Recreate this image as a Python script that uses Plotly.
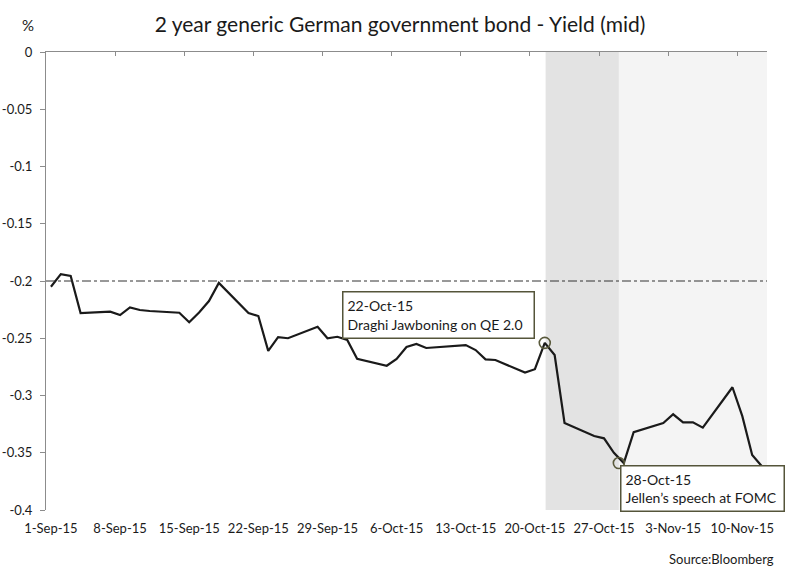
import pandas as pd
import plotly.graph_objects as go

# ---------------- data ----------------
dates = [
    "2015-09-01", "2015-09-02", "2015-09-03", "2015-09-04",
    "2015-09-07", "2015-09-08", "2015-09-09", "2015-09-10", "2015-09-11",
    "2015-09-14", "2015-09-15", "2015-09-16", "2015-09-17", "2015-09-18",
    "2015-09-21", "2015-09-22", "2015-09-23", "2015-09-24", "2015-09-25",
    "2015-09-28", "2015-09-29", "2015-09-30", "2015-10-01", "2015-10-02",
    "2015-10-05", "2015-10-06", "2015-10-07", "2015-10-08", "2015-10-09",
    "2015-10-12", "2015-10-13", "2015-10-14", "2015-10-15", "2015-10-16",
    "2015-10-19", "2015-10-20", "2015-10-21", "2015-10-22", "2015-10-23",
    "2015-10-26", "2015-10-27", "2015-10-28", "2015-10-29", "2015-10-30",
    "2015-11-02", "2015-11-03", "2015-11-04", "2015-11-05", "2015-11-06",
    "2015-11-09", "2015-11-10", "2015-11-11", "2015-11-12",
]
yields = [
    -0.205, -0.194, -0.1955, -0.228,
    -0.2268, -0.2297, -0.223, -0.2253, -0.2262,
    -0.2277, -0.236, -0.2275, -0.2175, -0.2017,
    -0.228, -0.2306, -0.261, -0.249, -0.250,
    -0.240, -0.250, -0.2487, -0.2515, -0.268,
    -0.274, -0.268, -0.2576, -0.255, -0.2585,
    -0.2568, -0.256, -0.2603, -0.2684, -0.269,
    -0.280, -0.277, -0.254, -0.2646, -0.324,
    -0.3354, -0.3374, -0.350, -0.359, -0.332,
    -0.324, -0.3164, -0.3234, -0.3234, -0.3281,
    -0.2928, -0.318, -0.352, -0.362,
]

tick_dates = ["2015-09-01", "2015-09-08", "2015-09-15", "2015-09-22", "2015-09-29",
              "2015-10-06", "2015-10-13", "2015-10-20", "2015-10-27", "2015-11-03",
              "2015-11-10"]
tick_labels = ["1-Sep-15", "8-Sep-15", "15-Sep-15", "22-Sep-15", "29-Sep-15",
               "6-Oct-15", "13-Oct-15", "20-Oct-15", "27-Oct-15", "3-Nov-15",
               "10-Nov-15"]
ytick_vals = [0, -0.05, -0.1, -0.15, -0.2, -0.25, -0.3, -0.35, -0.4]
ytick_text = ["0", "-0.05", "-0.1", "-0.15", "-0.2", "-0.25", "-0.3", "-0.35", "-0.4"]

x_range = ["2015-09-01", "2015-11-13"]
threshold = -0.2

event_x = ["2015-10-21 12:00", "2015-10-29 00:00"]
event_y = [-0.254, -0.359]
event_text = ["22-Oct-15<br>Draghi Jawboning on QE 2.0",
              "28-Oct-15<br>Jellen\u2019s speech at FOMC"]

shade_dark = ["2015-10-21 14:00", "2015-10-29 00:00"]
shade_light = ["2015-10-29 00:00", "2015-11-13 00:00"]

# ---------------- figure ----------------
FONT = "Lato, 'Open Sans', sans-serif"
x_mid = pd.to_datetime(dates) + pd.Timedelta(hours=12)
tick_mid = pd.to_datetime(tick_dates) + pd.Timedelta(hours=12)

fig = go.Figure()

fig.add_trace(go.Scatter(
    x=x_mid, y=yields, mode="lines",
    line=dict(color="#1a1a1a", width=2.2),
    showlegend=False, hoverinfo="x+y",
))
# invisible trace to anchor the top axis
fig.add_trace(go.Scatter(
    x=x_mid, y=yields, mode="lines", xaxis="x2",
    line=dict(width=0), opacity=0, showlegend=False, hoverinfo="skip",
))
# event circles
fig.add_trace(go.Scatter(
    x=pd.to_datetime(event_x), y=event_y, mode="markers",
    marker=dict(symbol="circle-open", size=11, color="#5a5a3c",
                line=dict(width=1.6, color="#5a5a3c")),
    showlegend=False, hoverinfo="skip",
))

# shaded periods
fig.add_shape(type="rect", xref="x", yref="y", x0=shade_dark[0], x1=shade_dark[1],
              y0=-0.4, y1=0, fillcolor="rgba(0,0,0,0.11)", line=dict(width=0),
              layer="below")
fig.add_shape(type="rect", xref="x", yref="y", x0=shade_light[0], x1=shade_light[1],
              y0=-0.4, y1=0, fillcolor="rgba(0,0,0,0.045)", line=dict(width=0),
              layer="below")

# threshold line
fig.add_shape(type="line", xref="x", yref="y", x0=x_range[0], x1=x_range[1],
              y0=threshold, y1=threshold,
              line=dict(color="#333333", width=1, dash="dashdot"))

# annotations boxes
L, R, T, B = 46, 33, 52, 65
W, H = 800, 575
pw, ph = W - L - R, H - T - B


def px(xp):
    return (xp - L) / pw


def py(yp):
    return (H - B - yp) / ph


fig.add_annotation(x=px(342), y=py(291), xref="paper", yref="paper",
                   xanchor="left", yanchor="top", showarrow=False,
                   text=event_text[0], align="left", width=182, height=37,
                   font=dict(family=FONT, size=14, color="#1a1a1a"),
                   bgcolor="white", bordercolor="#55553a", borderwidth=1.5, borderpad=4)
fig.add_annotation(x=px(620), y=py(465), xref="paper", yref="paper",
                   xanchor="left", yanchor="top", showarrow=False,
                   text=event_text[1], align="left", width=154, height=36,
                   font=dict(family=FONT, size=14, color="#1a1a1a"),
                   bgcolor="white", bordercolor="#55553a", borderwidth=1.5, borderpad=4)

fig.add_annotation(x=px(28), y=py(25), xref="paper", yref="paper",
                   xanchor="center", yanchor="middle", showarrow=False,
                   text="%", font=dict(family=FONT, size=15, color="#1a1a1a"))
fig.add_annotation(x=px(776), y=py(559), xref="paper", yref="paper",
                   xanchor="right", yanchor="middle", showarrow=False,
                   text="Source:Bloomberg", font=dict(family=FONT, size=13, color="#1a1a1a"))

fig.update_layout(
    width=W, height=H,
    margin=dict(l=L, r=R, t=T, b=B, autoexpand=False),
    paper_bgcolor="white", plot_bgcolor="white",
    font=dict(family=FONT, size=13, color="#1a1a1a"),
    title=dict(text="2 year generic German government bond - Yield (mid)",
               x=0.5, xanchor="center", xref="container", y=1 - 25 / H, yanchor="middle",
               font=dict(family=FONT, size=21, color="#1a1a1a"), automargin=False),
    xaxis=dict(type="date", range=x_range, tickvals=tick_mid, ticktext=tick_labels,
               ticks="", showline=False, showgrid=False, zeroline=False,
               automargin=False, ticklabelstandoff=9,
               tickfont=dict(family=FONT, size=13)),
    xaxis2=dict(type="date", range=x_range, overlaying="x", side="top",
                tickvals=pd.to_datetime(tick_dates), showticklabels=False,
                ticks="inside", ticklen=4, tickcolor="#8c8c8c",
                showline=True, linecolor="#8c8c8c", linewidth=1,
                showgrid=False, zeroline=False, automargin=False),
    yaxis=dict(range=[-0.4, 0], tickvals=ytick_vals, ticktext=ytick_text,
               ticks="outside", ticklen=5, tickcolor="#8c8c8c",
               showline=True, linecolor="#8c8c8c", linewidth=1,
               showgrid=False, zeroline=False, automargin=False,
               ticklabelstandoff=5,
               tickfont=dict(family=FONT, size=13)),
    hovermode="closest",
)

fig.write_html("out.html", config={"displayModeBar": False},
               post_script="document.body.style.margin='0';")
